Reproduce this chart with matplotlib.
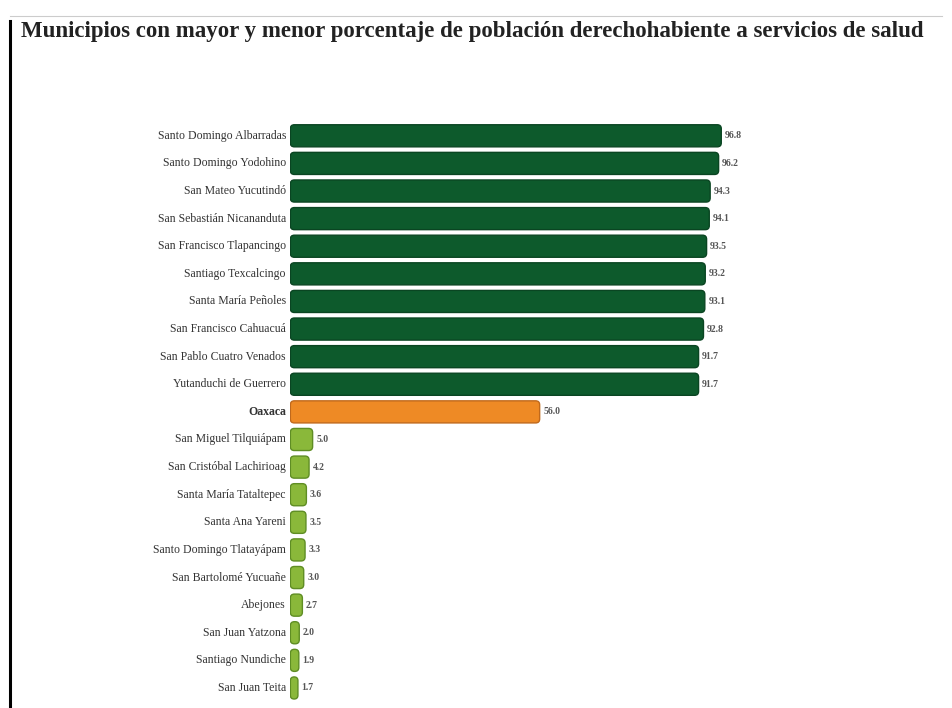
import matplotlib

matplotlib.use("agg")
import matplotlib.pyplot as plt
from matplotlib.lines import Line2D
from matplotlib.patches import FancyBboxPatch

municipios = [
    "Santo Domingo Albarradas",
    "Santo Domingo Yodohino",
    "San Mateo Yucutindó",
    "San Sebastián Nicananduta",
    "San Francisco Tlapancingo",
    "Santiago Texcalcingo",
    "Santa María Peñoles",
    "San Francisco Cahuacuá",
    "San Pablo Cuatro Venados",
    "Yutanduchi de Guerrero",
    "Oaxaca",
    "San Miguel Tilquiápam",
    "San Cristóbal Lachirioag",
    "Santa María Tataltepec",
    "Santa Ana Yareni",
    "Santo Domingo Tlatayápam",
    "San Bartolomé Yucuañe",
    "Abejones",
    "San Juan Yatzona",
    "Santiago Nundiche",
    "San Juan Teita",
]
porcentajes = [96.8, 96.2, 94.3, 94.1, 93.5, 93.2, 93.1, 92.8, 91.7, 91.7,
               56.0, 5.0, 4.2, 3.6, 3.5, 3.3, 3.0, 2.7, 2.0, 1.9, 1.7]
grupos = ["mayor"] * 10 + ["estado"] + ["menor"] * 10

colores = {"mayor": "#0d5a2c", "estado": "#ee8a25", "menor": "#8ab83a"}
bordes = {"mayor": "#0a4522", "estado": "#c0691c", "menor": "#5f8d24"}
serif = ["Liberation Serif", "DejaVu Serif"]

fig = plt.figure(figsize=(9.52, 7.08), dpi=100)
ax = fig.add_axes([0.305, 0.0088, 0.491, 0.8189])

y = list(range(len(municipios)))
barras = ax.barh(y, porcentajes, height=0.8,
                 color=[colores[g] for g in grupos],
                 edgecolor=[bordes[g] for g in grupos], linewidth=1.0)
ax.set_xlim(0, 105)
ax.set_ylim(len(municipios) - 0.5, -0.5)

# rounded corners: swap each rectangle for a rounded box of the same size
for rect in barras.patches:
    x0, y0 = rect.get_x(), rect.get_y()
    w, h = rect.get_width(), rect.get_height()
    caja = FancyBboxPatch((x0, y0), w, h,
                          boxstyle=f"round,pad=0,rounding_size={min(0.9, w / 2)}",
                          mutation_aspect=0.16,
                          facecolor=rect.get_facecolor(),
                          edgecolor=rect.get_edgecolor(), linewidth=1.0)
    rect.set_visible(False)
    ax.add_patch(caja)

for i, (nombre, valor, g) in enumerate(zip(municipios, porcentajes, grupos)):
    peso = "bold" if g == "estado" else "normal"
    ax.text(-1.0, i, nombre, ha="right", va="center", fontsize=8.5,
            family=serif, color="#333333", weight=peso)
    ax.text(valor + 0.8, i, f"{valor:.1f}", ha="left", va="center",
            fontsize=7, family=serif, color="#555555", weight="bold")

ax.axis("off")

fig.text(0.022, 0.955, "Municipios con mayor y menor porcentaje de población "
         "derechohabiente a servicios de salud", fontsize=16.5, weight="bold",
         family=serif, color="#222222", ha="left", va="center")
fig.add_artist(Line2D([0.011, 0.011], [0.0, 0.97], color="black", linewidth=2.2))
fig.add_artist(Line2D([0.011, 0.99], [0.978, 0.978], color="#cccccc", linewidth=0.8))

fig.savefig("out.png", dpi=100, facecolor="white")
